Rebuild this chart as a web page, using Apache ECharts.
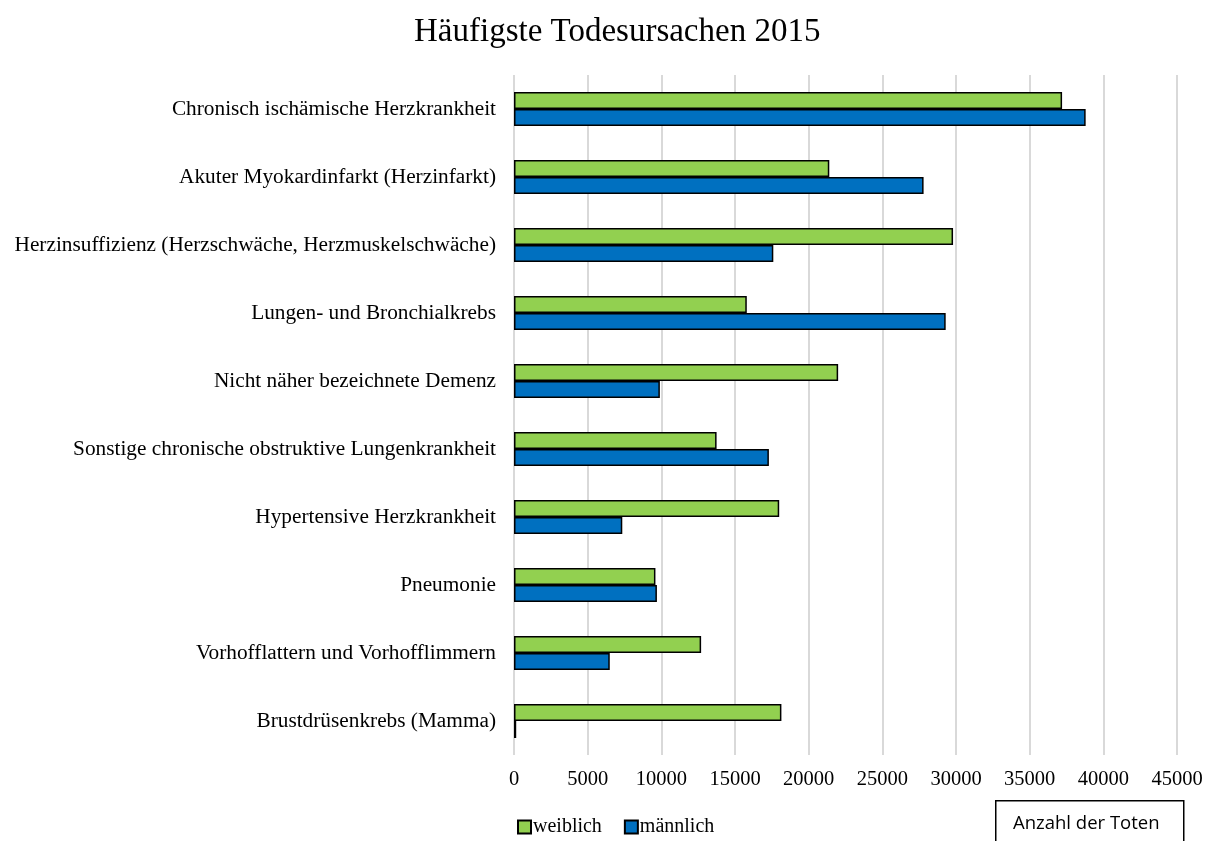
<!DOCTYPE html>
<html>
<head>
<meta charset="utf-8">
<script src="https://cdn.jsdelivr.net/npm/echarts@6/dist/echarts.min.js"></script>
<style>
    html, body { margin: 0; padding: 0; background: #fff; }
    #chart { width: 1213px; height: 841px; }
</style>
</head>
<body>
<div id="chart"></div>
<script>
// Kategorien (von oben nach unten)
const causes = [
    "Chronisch ischämische Herzkrankheit",
    "Akuter Myokardinfarkt (Herzinfarkt)",
    "Herzinsuffizienz (Herzschwäche, Herzmuskelschwäche)",
    "Lungen- und Bronchialkrebs",
    "Nicht näher bezeichnete Demenz",
    "Sonstige chronische obstruktive Lungenkrankheit",
    "Hypertensive Herzkrankheit",
    "Pneumonie",
    "Vorhofflattern und Vorhofflimmern",
    "Brustdrüsenkrebs (Mamma)"
];
const female = [37200, 21400, 29800, 15800, 22000, 13750, 18000, 9600, 12700, 18150];
const male   = [38800, 27800, 17600, 29300, 9900, 17300, 7350, 9700, 6500, 150];

const serif = "'Liberation Serif', 'DejaVu Serif', serif";

const chart = echarts.init(document.getElementById("chart"));
chart.setOption({
    animation: false,
    title: {
        text: "Häufigste Todesursachen 2015",
        left: 409,
        top: 11,
        textStyle: { fontFamily: serif, fontSize: 33, fontWeight: "normal", color: "#000" }
    },
    legend: {
        left: 512,
        top: 812,
        itemWidth: 13,
        itemHeight: 13,
        itemGap: 22,
        icon: "rect",
        textStyle: { fontFamily: serif, fontSize: 20, color: "#000", padding: [0, 0, 0, -3] },
        data: ["weiblich", "männlich"]
    },
    grid: { left: 514, right: 36, top: 75, bottom: 86 },
    xAxis: {
        type: "value",
        min: 0,
        max: 45000,
        interval: 5000,
        axisLine: { show: false },
        axisTick: { show: false },
        axisLabel: {
            fontFamily: serif, fontSize: 20.5, color: "#000", margin: 14,
            formatter: v => String(v)
        },
        splitLine: { lineStyle: { color: "#d9d9d9", width: 2 } }
    },
    yAxis: {
        type: "category",
        inverse: true,
        data: causes,
        axisLine: { show: false },
        axisTick: { show: false },
        axisLabel: { fontFamily: serif, fontSize: 21.3, color: "#000", margin: 18 }
    },
    series: [
        {
            name: "weiblich",
            type: "bar",
            data: female,
            barWidth: 17,
            barGap: "0%",
            itemStyle: { color: "#92d050", borderColor: "#000", borderWidth: 1.5 }
        },
        {
            name: "männlich",
            type: "bar",
            data: male,
            barWidth: 17,
            barGap: "0%",
            itemStyle: { color: "#0070c0", borderColor: "#000", borderWidth: 1.5 }
        }
    ],
    graphic: [
        {
            type: "rect",
            left: 995,
            top: 800,
            shape: { width: 188, height: 60 },
            style: { fill: "#fff", stroke: "#000", lineWidth: 1.5 }
        },
        {
            type: "text",
            left: 1013,
            top: 814,
            style: {
                text: "Anzahl der Toten",
                font: "18.5px 'Open Sans', 'Noto Sans', sans-serif",
                fill: "#000"
            }
        }
    ]
});
</script>
</body>
</html>
